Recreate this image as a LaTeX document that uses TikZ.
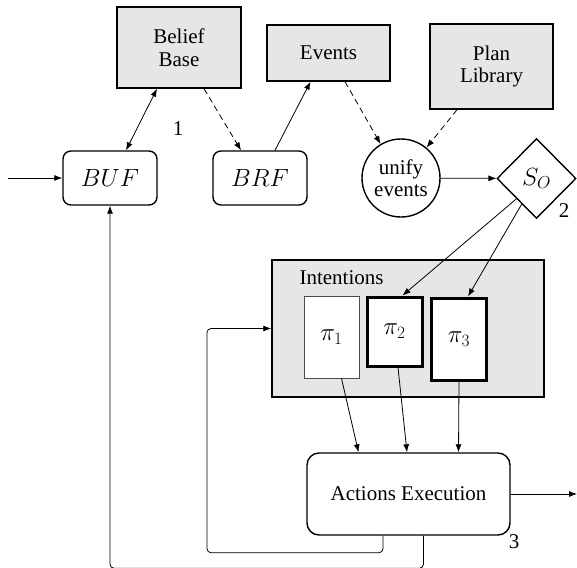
\documentclass[tikz,border=0pt]{standalone}
\usepackage{fontspec}
\setmainfont{Liberation Serif}[Ligatures=TeX]
\usetikzlibrary{arrows.meta,shapes.geometric}
\definecolor{storeColor}{RGB}{230,230,230}

\tikzset{
  store/.style={draw,line width=1.5pt,fill=storeColor,inner sep=0pt,align=center},
  proc/.style={draw,line width=1.4pt,rounded corners=8pt,inner sep=0pt},
  plan/.style={draw,line width=3pt,fill=white,minimum width=55pt,inner sep=0pt},
  sym/.style={font=\fontsize{24}{26}\selectfont},
  arr/.style={line width=0.8pt,-{Latex[length=8pt,width=6pt]}},
  darr/.style={arr,dash pattern=on 6pt off 4pt}
}

\begin{document}
\begin{tikzpicture}[x=1pt,y=-1pt,font=\rmfamily\fontsize{21}{22.5}\selectfont]
  \useasboundingbox (0,0) rectangle (577,567);
  % Stores
  \node[store,minimum width=124pt,minimum height=81pt] (BB) at (179,47.5) {Belief\\Base};
  \node[store,minimum width=123pt,minimum height=56pt] (Ev) at (328.5,53) {Events};
  \node[store,minimum width=123pt,minimum height=85pt] (PL) at (491.5,66.5) {Plan\\Library};
  % Functions
  \node[proc,sym,minimum width=94pt,minimum height=54pt] (BUF) at (110,178) {$BUF$};
  \node[proc,sym,minimum width=94pt,minimum height=54pt] (BRF) at (260,178) {$BRF$};
  \node[circle,draw,line width=1.4pt,minimum size=78pt,inner sep=0pt,align=center] (UE) at (401,178) {unify\\events};
  \node[diamond,sym,draw,line width=1.4pt,minimum width=79pt,minimum height=80pt,inner sep=0pt] (SO) at (536.5,178.5) {$S_O$};
  \node (n1) at (178,129) {1};
  \node (n2) at (564,211) {2};
  % Intentions
  \node[store,minimum width=272pt,minimum height=137pt] (Int) at (408,328.5) {};
  \node[anchor=west] (IntL) at (296,278) {Intentions};
  \node[sym,draw,draw=black!70,line width=0.8pt,fill=white,minimum width=55pt,minimum height=82pt,inner sep=0pt] (P1) at (331.5,337) {$\pi_1$};
  \node[plan,sym,minimum height=69pt] (P2) at (394.5,331.5) {$\pi_2$};
  \node[plan,sym,minimum height=82pt] (P3) at (459,339) {$\pi_3$};
  % Execution
  \node[proc,rounded corners=12pt,minimum width=203pt,minimum height=82pt] (AE) at (408.5,494) {Actions Execution};
  \node (n3) at (514,542) {3};
  \coordinate (in) at (8,178);
  \coordinate (out) at (577,494);

  % Connectors
  \draw[arr] (in) -- (BUF);
  \draw[arr,{Latex[length=8pt,width=6pt]}-{Latex[length=8pt,width=6pt]}] ([xshift=16pt]BUF.north) -- ([xshift=-22pt]BB.south);
  \draw[darr] ([xshift=25pt]BB.south) -- ([xshift=-19pt]BRF.north);
  \draw[arr] ([xshift=15pt]BRF.north) -- ([xshift=-18pt]Ev.south);
  \draw[darr] ([xshift=16.5pt]Ev.south) -- (UE.121);
  \draw[darr] ([xshift=-34.5pt]PL.south) -- (UE.50);
  \draw[arr] (UE) -- (SO);
  \draw[arr] (SO.south west) -- ([xshift=8pt]P2.north);
  \draw[arr] (SO.240) -- ([xshift=9pt]P3.north);
  \draw[arr] ([xshift=10pt]P1.south) -- ([xshift=-50pt]AE.north);
  \draw[arr] ([xshift=3.5pt]P2.south) -- ([xshift=-1.5pt]AE.north);
  \draw[arr] (P3.south) -- ([xshift=50pt]AE.north);
  \draw[arr] (AE) -- (out);
  \draw[arr,rounded corners=4pt] ([xshift=-25.5pt]AE.south) -- ++(0,17) -| ++(-176,-50) |- (Int.west);
  \draw[arr,rounded corners=4pt] ([xshift=15pt]AE.south) -- ++(0,32.5) -| (BUF.south);
\end{tikzpicture}
\end{document}
